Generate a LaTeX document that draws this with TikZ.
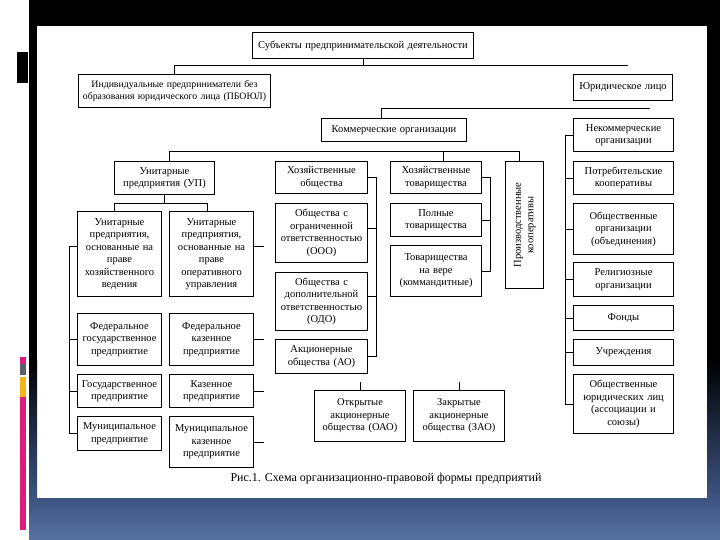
\documentclass[tikz,border=0pt]{standalone}
\usepackage{fontspec}
\setmainfont{Liberation Serif}
\usepackage{graphicx}
\usetikzlibrary{positioning,calc}
\definecolor{bandtop}{HTML}{3D5482}
\definecolor{bandbot}{HTML}{5872A2}
\definecolor{decopink}{HTML}{DC1C78}
\definecolor{decogray}{HTML}{56606C}
\definecolor{decoyel}{HTML}{F2B51C}

\begin{document}
\begin{tikzpicture}[x=1pt,y=-1pt,
    bx/.style={draw,line width=1pt,anchor=north west,align=center,
      inner xsep=1pt,inner ysep=1pt,font=\fontsize{10.5}{12.5}\selectfont},
    sz/.style 2 args={text width=#1pt-2pt,minimum height=#2pt},
    ln/.style={line width=0.9pt}]
  % slide frame
  \useasboundingbox (0,0) rectangle (720,540);
  \fill[white] (0,0) rectangle (720,540);
  \fill[black] (29,0) rectangle (720,26);
  \fill[black] (29,0) rectangle (37,360);
  \fill[black] (707,0) rectangle (720,360);
  \shade[top color=black,bottom color=bandtop] (29,360) rectangle (37,498);
  \shade[top color=black,bottom color=bandtop] (707,360) rectangle (720,498);
  \shade[top color=bandtop,bottom color=bandbot] (29,498) rectangle (720,540);
  \fill[black] (17,52) rectangle (27.5,83);
  \fill[decopink] (20,357) rectangle (26,364);
  \fill[decogray] (20,364) rectangle (26,375);
  \fill[decoyel] (20,377) rectangle (26,397);
  \fill[decopink] (20,397) rectangle (26,530);

  % top levels
  \node[bx,sz={221}{26}] (subj) at (252,32) {Субъекты предпринимательской деятельности};
  \node[bx,sz={192}{33},font=\fontsize{9.8}{12.5}\selectfont] (ip) at (78,74)
    {Индивидуальные предприниматели без\\образования юридического лица (ПБОЮЛ)};
  \node[bx,sz={99}{26}] (jur) at (573,74) {Юридическое лицо};
  \node[bx,sz={145}{23}] (comm) at (321,118) {Коммерческие организации};
  \node[bx,sz={100}{33}] (noncomm) at (573,118) {Некоммерческие\\организации};

  % commercial
  \node[bx,sz={100}{33}] (unit) at (114,161) {Унитарные\\предприятия (УП)};
  \node[bx,sz={92}{32}] (hozob) at (275,161) {Хозяйственные\\общества};
  \node[bx,sz={91}{32}] (hoztov) at (390,161) {Хозяйственные\\товарищества};
  \node[bx,sz={38}{127}] (coop) at (505,161)
    {\rotatebox{90}{\begin{tabular}{@{}c@{}}Производственные\\кооперативы\end{tabular}}};
  \node[bx,sz={84}{85}] (uhv) at (77,211) {Унитарные\\предприятия,\\основанные на\\праве\\хозяйственного\\ведения};
  \node[bx,sz={84}{85}] (uou) at (169,211) {Унитарные\\предприятия,\\основанные на\\праве\\оперативного\\управления};
  \node[bx,sz={84}{52}] (fgp) at (77,313) {Федеральное\\государственное\\предприятие};
  \node[bx,sz={84}{52}] (fkp) at (169,313) {Федеральное\\казенное\\предприятие};
  \node[bx,sz={84}{33}] (gp) at (77,374) {Государственное\\предприятие};
  \node[bx,sz={84}{33}] (kp) at (169,374) {Казенное\\предприятие};
  \node[bx,sz={84}{34}] (mp) at (77,416) {Муниципальное\\предприятие};
  \node[bx,sz={84}{51}] (mkp) at (169,416) {Муниципальное\\казенное\\предприятие};
  \node[bx,sz={92}{59}] (ooo) at (275,203) {Общества с\\ограниченной\\ответственностью\\(ООО)};
  \node[bx,sz={92}{58}] (odo) at (275,272) {Общества с\\дополнительной\\ответственностью\\(ОДО)};
  \node[bx,sz={92}{34}] (ao) at (275,339) {Акционерные\\общества (АО)};
  \node[bx,sz={91}{51}] (oao) at (314,390) {Открытые\\акционерные\\общества (ОАО)};
  \node[bx,sz={91}{51}] (zao) at (413,390) {Закрытые\\акционерные\\общества (ЗАО)};
  \node[bx,sz={91}{33}] (polnye) at (390,203) {Полные\\товарищества};
  \node[bx,sz={91}{51}] (tnv) at (390,245) {Товарищества\\на вере\\(коммандитные)};

  % non-commercial
  \node[bx,sz={100}{33}] (potreb) at (573,161) {Потребительские\\кооперативы};
  \node[bx,sz={100}{51}] (obshorg) at (573,203) {Общественные\\организации\\(объединения)};
  \node[bx,sz={100}{34}] (relig) at (573,262) {Религиозные\\организации};
  \node[bx,sz={100}{25}] (fondy) at (573,305) {Фонды};
  \node[bx,sz={100}{26}] (uchr) at (573,339) {Учреждения};
  \node[bx,sz={100}{59}] (objur) at (573,374) {Общественные\\юридических лиц\\(ассоциации и\\союзы)};

  \node[font=\fontsize{12}{14}\selectfont] (cap) at (386,479) {Рис.1. Схема организационно-правовой формы предприятий};

  % connectors
  \draw[ln] (subj.south) -- ++(0,7);
  \coordinate (s1) at (628,65);
  \draw[ln] (ip.north) |- (s1);
  \coordinate (c1) at (381,108);
  \coordinate (c2) at (650,108);
  \draw[ln] (c1 |- comm.north) -- (c1) -- (c2);
  \coordinate (k1) at (169,151);
  \coordinate (k2) at (519,151);
  \coordinate (k3) at (443,151);
  \draw[ln] (k1 |- unit.north) -- (k1) -- (k2) -- (k2 |- coop.north);
  \draw[ln] (k3) -- (k3 |- hoztov.north);
  \draw[ln] (unit.south) -- ++(0,9);
  \coordinate (u1) at (114,203);
  \coordinate (u2) at (207,203);
  \draw[ln] (u1 |- uhv.north) -- (u1) -- (u2) -- (u2 |- uou.north);
  \draw[ln] ([yshift=8pt]uhv.west) -- ++(-8,0) coordinate (l0) -- (l0 |- mp.west) -- (mp.west);
  \foreach \n in {fgp,gp}
    \draw[ln] (\n.west) -- (\n.west -| l0);
  \draw[ln] ([yshift=8pt]uou.east) -- ++(10,0);
  \foreach \n in {fkp,kp,mkp}
    \draw[ln] (\n.east) -- ++(10,0);
  \draw[ln] (hozob.east) -- ++(8,0) coordinate (h0) -- (h0 |- ao.east) -- (ao.east);
  \draw[ln] ([yshift=5pt]ooo.east) -- ++(8,0);
  \draw[ln] ([yshift=5pt]odo.east) -- ++(8,0);
  \draw[ln] (hoztov.east) -- ++(8,0) coordinate (t0) -- (t0 |- tnv.east) -- (tnv.east);
  \draw[ln] (polnye.east) -- ++(8,0);
  \draw[ln] (noncomm.west) -- ++(-8,0) coordinate (r0) -- (r0 |- objur.west) -- (objur.west);
  \foreach \n in {potreb,obshorg,relig,fondy,uchr}
    \draw[ln] (\n.west) -- ++(-8,0);
  \draw[ln] (oao.north) -- ++(0,-8);
  \draw[ln] (zao.north) -- ++(0,-8);
\end{tikzpicture}
\end{document}
